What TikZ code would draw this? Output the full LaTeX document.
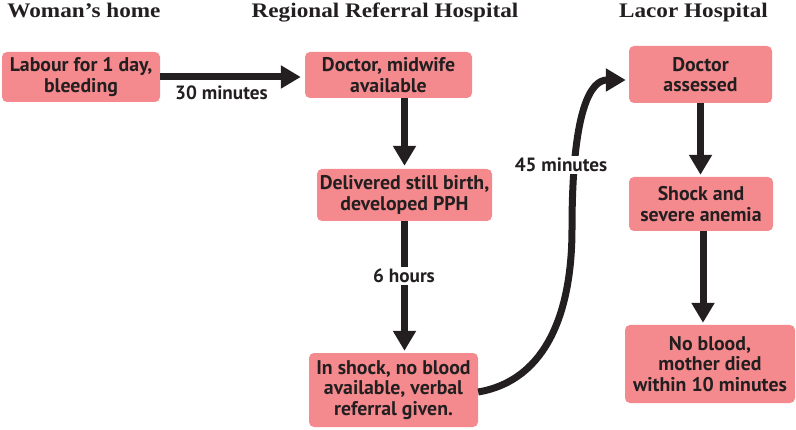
\documentclass[tikz,border=0pt]{standalone}
\usepackage{fontspec}
\setsansfont{PT Sans}
\newfontfamily\headfont[FakeStretch=1.12]{Liberation Serif}
\usetikzlibrary{arrows.meta}
\definecolor{boxpink}{HTML}{F58A8E}
\definecolor{ink}{HTML}{231F20}
\begin{document}
\begin{tikzpicture}[x=1pt,y=1pt,
  head/.style={font=\headfont\bfseries\fontsize{20.7}{22}\selectfont,text=ink,anchor=base,inner sep=0pt},
  stage/.style={fill=boxpink,rounded corners=5pt,align=center,inner sep=0pt,
    font=\sffamily\bfseries\fontsize{19.8}{20.5}\selectfont,text=ink},
  flow/.style={draw=ink,line width=7pt,-{Triangle[width=22pt,length=20pt]}},
  time/.style={font=\sffamily\bfseries\fontsize{19.2}{20}\selectfont,text=ink,fill=white,inner sep=2pt}]
\useasboundingbox (0,0) rectangle (796,429);
%=======headings=============
\node[head] (hhome) at (84,411.5) {Woman’s home};
\node[head] (hrrh) at (385,411.5) {Regional Referral Hospital};
\node[head] (hlacor) at (693.5,411.5) {Lacor Hospital};
%=======woman's home=============
\node[stage,minimum width=158pt,minimum height=50pt] (b1) at (81,352) {Labour for 1 day,\\bleeding};
%=======regional referral hospital=============
\node[stage,minimum width=167pt,minimum height=46pt] (b2) at (388.5,354) {Doctor, midwife\\available};
\node[stage,minimum width=175pt,minimum height=52pt] (b3) at (404.5,234) {Delivered still birth,\\developed PPH};
\node[stage,minimum width=169pt,minimum height=74pt] (b4) at (393.5,39) {In shock, no blood\\available, verbal\\referral given.};
%=======lacor hospital=============
\node[stage,minimum width=143pt,minimum height=57pt] (b5) at (700.5,354.5) {Doctor\\assessed};
\node[stage,minimum width=144pt,minimum height=54pt] (b6) at (701,225) {Shock and\\severe anemia};
\node[stage,minimum width=170pt,minimum height=78pt] (b7) at (710,65) {No blood,\\mother died\\within 10 minutes};
%=======transfers=============
\draw[flow] (b1.east) -- ([xshift=-4pt]b1.east -| b2.west);
\node[time,fill=none] (t1) at (221.5,336) {30 minutes};
\draw[flow] (b2.south -| b3.north) -- ([yshift=3pt]b3.north);
\draw[flow] (b3.south) -- ([yshift=2pt]b3.south |- b4.north);
\node[time] (t2) at (404,153) {6 hours};
\coordinate (turn) at (572,200);
\draw[flow] ([yshift=-2pt]b4.east) .. controls +(70,12) and +(0,-80) .. (turn)
  .. controls +(0,120) and +(-35,0) .. ([xshift=-3pt,yshift=-5.5pt]b5.west);
\node[time] (t3) at (561,264) {45 minutes};
\draw[flow] (b5.south) -- ([yshift=2pt]b5.south |- b6.north);
\draw[flow] ([xshift=2pt]b6.south) -- ([xshift=2pt,yshift=2pt]b6.south |- b7.north);
\end{tikzpicture}
\end{document}
